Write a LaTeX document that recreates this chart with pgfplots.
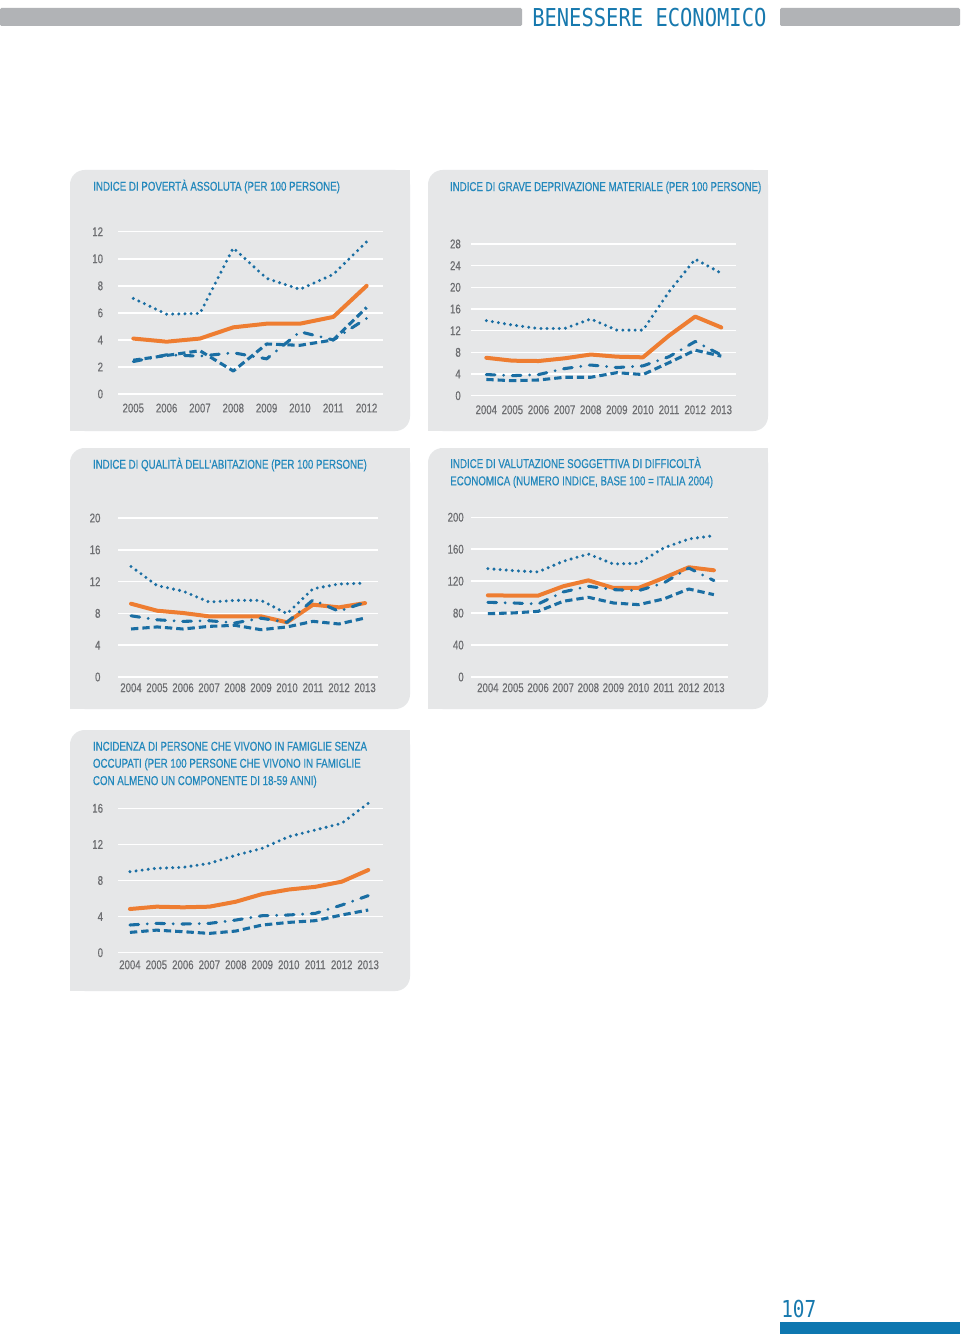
\documentclass[border=0pt]{standalone}
\usepackage{pgfplots}
\pgfplotsset{compat=1.18}
\usepackage{fontspec}
\setmainfont{Liberation Sans}
\newfontfamily\condf[FakeStretch=0.76,FakeBold=0.5]{Liberation Sans}
\newfontfamily\monof[FakeStretch=0.83]{DejaVu Sans Mono}
\definecolor{panelgray}{HTML}{E6E7E8}
\definecolor{bargray}{HTML}{B1B3B6}
\definecolor{ttl}{HTML}{2388BC}
\definecolor{ora}{HTML}{EE7D31}
\definecolor{blu}{HTML}{1A6EA3}
\definecolor{tickg}{HTML}{6D6E71}
\definecolor{hdr}{HTML}{1779AE}
\definecolor{footbar}{HTML}{0E77B0}

\pgfplotsset{
 pnl/.style={
  scale only axis, clip=false,
  axis line style={draw=none},
  major tick length=0pt,
  ymajorgrids, grid style={white, line width=1.1pt},
  ymin=0,
  tick label style={font=\condf\fontsize{9.5}{11}\selectfont, text=tickg, inner sep=0pt},
  yticklabel style={anchor=east},
  xticklabel style={anchor=north},
  scaled x ticks=false, scaled y ticks=false,
  /pgf/number format/1000 sep={},
  /pgf/number format/assume math mode=true,
 },
 sol/.style={ora, line width=3pt, line join=round, line cap=round, mark=none},
 dot/.style={blu, line width=2.5pt, line cap=round, dash pattern=on 0pt off 4.6pt, mark=none},
 dsh/.style={blu, line width=2.3pt, line join=round, dash pattern=on 5.5pt off 3pt, mark=none},
 dd/.style={blu, line width=2.3pt, line cap=round, line join=round, dash pattern=on 6.5pt off 6.5pt on 0pt off 6.5pt, mark=none},
}
\newcommand\panel[4]{%
 \fill[panelgray, rounded corners=11pt] (#1,#2) rectangle (#3,#4);
 \fill[panelgray] (#3-20,#2) rectangle (#3,#2+20);
 \fill[panelgray] (#1,#4-20) rectangle (#1+20,#4);
}
\tikzset{ttlnode/.style={anchor=base west, inner sep=0pt, text=ttl, font=\condf\fontsize{9.6}{11}\selectfont}}

\begin{document}
\begin{tikzpicture}
\begin{scope}[x=0.75pt,y=-0.75pt]
\fill[white] (0,0) rectangle (960,1334);
% header
\fill[bargray, rounded corners=1pt] (0,8) rectangle (522,26);
\fill[bargray, rounded corners=1pt] (780,8) rectangle (960,26);
\node[anchor=base west, inner sep=0pt, text=hdr, font=\monof\fontsize{18.5}{20}\selectfont] at (532,27) {BENESSERE ECONOMICO};
% footer
\node[anchor=base west, inner sep=0pt, text=hdr, font=\monof\fontsize{17.5}{19}\selectfont] at (781,1317) {107};
\fill[footbar] (780,1322) rectangle (960,1334);

% panels
\panel{70}{170}{410}{431}
\panel{428}{170}{768}{431}
\panel{70}{448}{410}{709}
\panel{428}{448}{768}{709}
\panel{70}{730}{410}{991}

% titles
\node[ttlnode] at (93,190.7) {INDICE DI POVERTÀ ASSOLUTA (PER 100 PERSONE)};
\node[ttlnode] at (449.7,191) {INDICE DI GRAVE DEPRIVAZIONE MATERIALE (PER 100 PERSONE)};
\node[ttlnode] at (92.7,468.7) {INDICE DI QUALITÀ DELL’ABITAZIONE (PER 100 PERSONE)};
\node[ttlnode] at (450,468) {INDICE DI VALUTAZIONE SOGGETTIVA DI DIFFICOLTÀ};
\node[ttlnode] at (450,485.3) {ECONOMICA (NUMERO INDICE, BASE 100 = ITALIA 2004)};
\node[ttlnode] at (92.7,750.7) {INCIDENZA DI PERSONE CHE VIVONO IN FAMIGLIE SENZA};
\node[ttlnode] at (92.7,767.7) {OCCUPATI (PER 100 PERSONE CHE VIVONO IN FAMIGLIE};
\node[ttlnode] at (92.7,785) {CON ALMENO UN COMPONENTE DI 18-59 ANNI)};

\coordinate (a1) at (118.3,394);
\coordinate (a2) at (471.3,395.7);
\coordinate (a3) at (118.3,677);
\coordinate (a4) at (471.3,677);
\coordinate (a5) at (118.3,952.7);
\end{scope}

% Panel 1
\begin{axis}[pnl, at={(a1)}, anchor=south west, width=198.75pt, height=121.7pt,
  xmin=2004.55, xmax=2012.5, ymax=12, ytick={0,2,...,12}, xtick={2005,...,2012},
  yticklabel style={xshift=-11.25pt}, xticklabel style={yshift=-7pt}]
\addplot[sol] coordinates {(2005,4.1)(2006,3.87)(2007,4.1)(2008,4.93)(2009,5.2)(2010,5.2)(2011,5.7)(2012,8.0)};
\addplot[dot] coordinates {(2005,7.07)(2006,5.9)(2007,5.96)(2008,10.8)(2009,8.55)(2010,7.74)(2011,8.85)(2012,11.26)};
\addplot[dd] coordinates {(2005,2.4)(2006,2.9)(2007,2.8)(2008,3.05)(2009,2.6)(2010,4.6)(2011,4.0)(2012,5.6)};
\addplot[dsh] coordinates {(2005,2.5)(2006,2.85)(2007,3.2)(2008,1.7)(2009,3.7)(2010,3.6)(2011,4.0)(2012,6.4)};
\end{axis}

% Panel 2
\begin{axis}[pnl, at={(a2)}, anchor=south west, width=198.75pt, height=113.8pt,
  xmin=2003.425, xmax=2013.575, ymax=28, ytick={0,4,...,28}, xtick={2004,...,2013},
  yticklabel style={xshift=-7.7pt}, xticklabel style={yshift=-7pt}]
\addplot[sol] coordinates {(2004,7.0)(2005,6.46)(2006,6.4)(2007,6.9)(2008,7.6)(2009,7.2)(2010,7.08)(2011,11.1)(2012,14.6)(2013,12.6)};
\addplot[dot] coordinates {(2004,13.85)(2005,13.05)(2006,12.4)(2007,12.4)(2008,14.15)(2009,12.1)(2010,12.1)(2011,19.2)(2012,25.2)(2013,22.6)};
\addplot[dd] coordinates {(2004,3.9)(2005,3.7)(2006,3.9)(2007,5.0)(2008,5.66)(2009,5.2)(2010,5.5)(2011,7.2)(2012,10.0)(2013,7.5)};
\addplot[dsh] coordinates {(2004,3.0)(2005,2.77)(2006,2.9)(2007,3.4)(2008,3.4)(2009,4.25)(2010,3.9)(2011,6.1)(2012,8.4)(2013,7.3)};
\end{axis}

% Panel 3
\begin{axis}[pnl, at={(a3)}, anchor=south west, width=195pt, height=119.25pt,
  xmin=2003.51, xmax=2013.51, ymax=20, ytick={0,4,...,20}, xtick={2004,...,2013},
  yticklabel style={xshift=-13.2pt}, xticklabel style={yshift=-4.5pt}]
\addplot[sol] coordinates {(2004,9.22)(2005,8.34)(2006,8.05)(2007,7.63)(2008,7.63)(2009,7.63)(2010,6.88)(2011,9.1)(2012,8.76)(2013,9.3)};
\addplot[dot] coordinates {(2004,13.9)(2005,11.5)(2006,10.8)(2007,9.43)(2008,9.64)(2009,9.64)(2010,7.97)(2011,11.1)(2012,11.7)(2013,11.8)};
\addplot[dd] coordinates {(2004,7.7)(2005,7.2)(2006,7.0)(2007,7.08)(2008,6.8)(2009,7.4)(2010,6.88)(2011,9.7)(2012,8.26)(2013,9.4)};
\addplot[dsh] coordinates {(2004,6.04)(2005,6.3)(2006,6.04)(2007,6.37)(2008,6.5)(2009,5.95)(2010,6.3)(2011,7.0)(2012,6.67)(2013,7.42)};
\end{axis}

% Panel 4
\begin{axis}[pnl, at={(a4)}, anchor=south west, width=192.5pt, height=119.8pt,
  xmin=2003.34, xmax=2013.56, ymax=200, ytick={0,40,...,200}, xtick={2004,...,2013},
  yticklabel style={xshift=-5.5pt}, xticklabel style={yshift=-4.5pt}]
\addplot[sol] coordinates {(2004,102.3)(2005,101.9)(2006,101.9)(2007,113.6)(2008,121)(2009,111.5)(2010,111.5)(2011,124)(2012,137.4)(2013,133.6)};
\addplot[dot] coordinates {(2004,135.7)(2005,133.2)(2006,131.5)(2007,144.9)(2008,154)(2009,141.5)(2010,142.4)(2011,161.6)(2012,172.8)(2013,177)};
\addplot[dd] coordinates {(2004,93.5)(2005,92.7)(2006,91.4)(2007,106.5)(2008,113.6)(2009,109.4)(2010,108.1)(2011,117.7)(2012,136.5)(2013,120.7)};
\addplot[dsh] coordinates {(2004,79.3)(2005,80.2)(2006,82.2)(2007,94.8)(2008,99.8)(2009,92.7)(2010,90.6)(2011,97.7)(2012,110.2)(2013,103.1)};
\end{axis}

% Panel 5
\begin{axis}[pnl, at={(a5)}, anchor=south west, width=198.75pt, height=108.3pt,
  xmin=2003.56, xmax=2013.57, ymax=16, ytick={0,4,...,16}, xtick={2004,...,2013},
  yticklabel style={xshift=-11.25pt}, xticklabel style={yshift=-5.5pt}]
\addplot[sol] coordinates {(2004,4.84)(2005,5.1)(2006,5.03)(2007,5.1)(2008,5.65)(2009,6.5)(2010,7.0)(2011,7.3)(2012,7.87)(2013,9.16)};
\addplot[dot] coordinates {(2004,8.98)(2005,9.35)(2006,9.46)(2007,9.9)(2008,10.8)(2009,11.57)(2010,12.86)(2011,13.6)(2012,14.34)(2013,16.56)};
\addplot[dd] coordinates {(2004,3.07)(2005,3.25)(2006,3.18)(2007,3.25)(2008,3.62)(2009,4.1)(2010,4.18)(2011,4.36)(2012,5.28)(2013,6.32)};
\addplot[dsh] coordinates {(2004,2.25)(2005,2.5)(2006,2.33)(2007,2.14)(2008,2.4)(2009,3.07)(2010,3.36)(2011,3.55)(2012,4.18)(2013,4.73)};
\end{axis}
\end{tikzpicture}
\end{document}
